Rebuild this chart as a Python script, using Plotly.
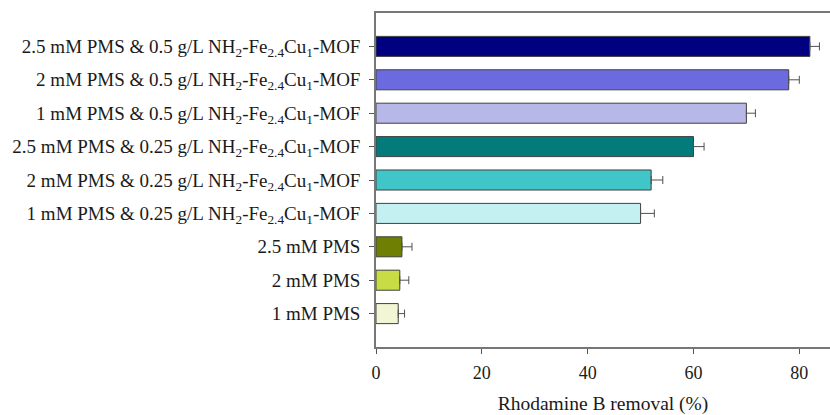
import plotly.graph_objects as go

categories = [
    "2.5 mM PMS & 0.5 g/L NH<sub>2</sub>-Fe<sub>2.4</sub>Cu<sub>1</sub>-MOF",
    "2 mM PMS & 0.5 g/L NH<sub>2</sub>-Fe<sub>2.4</sub>Cu<sub>1</sub>-MOF",
    "1 mM PMS & 0.5 g/L NH<sub>2</sub>-Fe<sub>2.4</sub>Cu<sub>1</sub>-MOF",
    "2.5 mM PMS & 0.25 g/L NH<sub>2</sub>-Fe<sub>2.4</sub>Cu<sub>1</sub>-MOF",
    "2 mM PMS & 0.25 g/L NH<sub>2</sub>-Fe<sub>2.4</sub>Cu<sub>1</sub>-MOF",
    "1 mM PMS & 0.25 g/L NH<sub>2</sub>-Fe<sub>2.4</sub>Cu<sub>1</sub>-MOF",
    "2.5 mM PMS",
    "2 mM PMS",
    "1 mM PMS",
]
removal = [82.0, 78.0, 70.0, 60.0, 52.0, 50.0, 4.9, 4.5, 4.2]
errors = [1.8, 2.0, 1.7, 2.0, 2.2, 2.6, 1.9, 1.7, 1.2]
colors = ["#000080", "#6B6BDF", "#B8B8E8", "#037B7B", "#40C6C8",
          "#C4F0F2", "#6E7F03", "#C8DC46", "#F2F6D4"]
x_ticks = [0, 20, 40, 60, 80]

fig = go.Figure()
fig.add_trace(go.Bar(
    x=removal,
    y=list(range(len(categories))),
    orientation="h",
    width=0.6,
    marker=dict(color=colors, line=dict(color="#404040", width=1)),
    error_x=dict(type="data", symmetric=False, array=errors,
                 arrayminus=[0] * len(errors), visible=True,
                 color="#505050", thickness=1, width=4),
))

font_family = "Liberation Serif, Times New Roman, serif"
fig.update_layout(
    width=830, height=415,
    margin=dict(l=376, r=0, t=13, b=68),
    plot_bgcolor="white", paper_bgcolor="white",
    showlegend=False,
    font=dict(family=font_family, size=19, color="#1a1a1a"),
    xaxis=dict(
        range=[0, 85.8], tickvals=x_ticks, ticktext=[str(v) for v in x_ticks],
        showgrid=False, zeroline=False, automargin=False,
        showline=True, mirror=True, linecolor="#777777", linewidth=1.5,
        ticks="outside", ticklen=5, tickcolor="#555555",
        ticklabelstandoff=4,
        tickfont=dict(size=18),
        title=dict(text="Rhodamine B removal (%)", font=dict(size=19.5), standoff=17),
    ),
    yaxis=dict(
        range=[len(categories), -1],
        tickvals=list(range(len(categories))), ticktext=categories,
        showgrid=False, zeroline=False, automargin=False,
        showline=True, mirror=False, linecolor="#777777", linewidth=1.5,
        ticks="outside", ticklen=5, tickcolor="#555555",
        ticklabelstandoff=5,
        tickfont=dict(size=19),
    ),
)

fig.write_html("out.html", config={"displayModeBar": False},
               post_script="document.body.style.margin='0';document.body.style.overflow='hidden';")
